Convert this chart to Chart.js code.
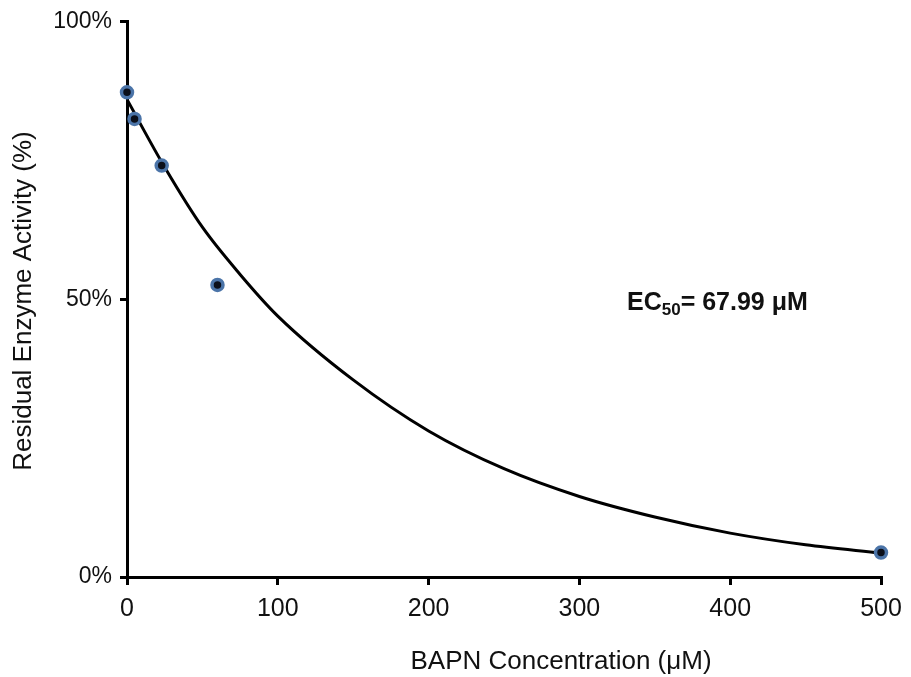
<!DOCTYPE html>
<html>
<head>
<meta charset="utf-8">
<script src="https://cdn.jsdelivr.net/npm/chart.js@4.4.0/dist/chart.umd.min.js"></script>
<style>
  html, body { margin: 0; padding: 0; background: #fff; }
  #wrap { width: 911px; height: 677px; }
</style>
</head>
<body>
<div id="wrap"><canvas id="chart" width="911" height="677"></canvas></div>
<script>
// Measured data (BAPN concentration, µM  vs residual activity, %)
const concPoints = [0, 5, 23, 60, 500];
const activityPoints = [87.3, 82.5, 74.1, 52.6, 4.4];

// Fitted curve
const fitConc = [0, 25, 50, 75, 100, 150, 200, 250, 300, 350, 400, 450, 500];
const fitActivity = [86.0, 73.8, 63.0, 54.5, 47.0, 35.5, 26.3, 19.5, 14.5, 10.8, 7.9, 5.8, 4.3];

const xTicks = [0, 100, 200, 300, 400, 500];
const yTicks = [0, 50, 100];

const FONT = '"Liberation Sans", Arial, sans-serif';

// axis titles + EC50 note
const labelsPlugin = {
  id: 'labels',
  afterDraw(chart) {
    const ctx = chart.ctx;
    ctx.save();
    ctx.fillStyle = '#111';
    ctx.font = '26px ' + FONT;
    ctx.textAlign = 'center';
    ctx.textBaseline = 'middle';
    ctx.fillText('BAPN Concentration (\u03bcM)', 561, 662);

    ctx.save();
    ctx.translate(24, 301);
    ctx.rotate(-Math.PI / 2);
    ctx.fillText('Residual Enzyme Activity (%)', 0, 0);
    ctx.restore();

    // EC50 label
    ctx.textAlign = 'left';
    ctx.textBaseline = 'alphabetic';
    let x = 627;
    const y = 310;
    ctx.font = 'bold 25px ' + FONT;
    ctx.fillText('EC', x, y);
    x += ctx.measureText('EC').width;
    ctx.font = 'bold 17px ' + FONT;
    ctx.fillText('50', x, y + 5);
    x += ctx.measureText('50').width;
    ctx.font = 'bold 25px ' + FONT;
    ctx.fillText('= 67.99 \u03bcM', x, y);
    ctx.restore();
  }
};

new Chart(document.getElementById('chart'), {
  type: 'scatter',
  data: {
    datasets: [
      {
        label: 'Measured',
        data: concPoints.map((c, i) => ({ x: c, y: activityPoints[i] })),
        showLine: false,
        clip: false,
        pointRadius: 5.5,
        pointBorderWidth: 3.5,
        pointBackgroundColor: '#0b0f1a',
        pointBorderColor: '#4b74a8',
        order: 0
      },
      {
        label: 'Fit',
        data: fitConc.map((c, i) => ({ x: c, y: fitActivity[i] })),
        showLine: true,
        borderColor: '#000',
        borderWidth: 3,
        pointRadius: 0,
        cubicInterpolationMode: 'monotone',
        order: 1
      }
    ]
  },
  options: {
    responsive: false,
    animation: false,
    layout: { padding: { top: 20, right: 30, left: 0, bottom: 0 } },
    plugins: {
      legend: { display: false },
      tooltip: { enabled: false }
    },
    scales: {
      x: {
        type: 'linear',
        min: 0,
        max: 500,
        afterFit(scale) { scale.height = 100; },
        afterBuildTicks(scale) { scale.ticks = xTicks.map(v => ({ value: v })); },
        border: { display: true, color: '#000', width: 3 },
        grid: { drawOnChartArea: false, color: '#000', lineWidth: 3, tickLength: 8 },
        ticks: { color: '#111', font: { family: FONT, size: 25 }, padding: 9 }
      },
      y: {
        min: 0,
        max: 100,
        afterFit(scale) { scale.width = 127; },
        afterBuildTicks(scale) { scale.ticks = yTicks.map(v => ({ value: v })); },
        border: { display: true, color: '#000', width: 3 },
        grid: { drawOnChartArea: false, color: '#000', lineWidth: 3, tickLength: 7 },
        ticks: {
          color: '#111',
          font: { family: FONT, size: 23 },
          padding: 8,
          callback: v => v + '%'
        }
      }
    }
  },
  plugins: [labelsPlugin]
});
</script>
</body>
</html>
